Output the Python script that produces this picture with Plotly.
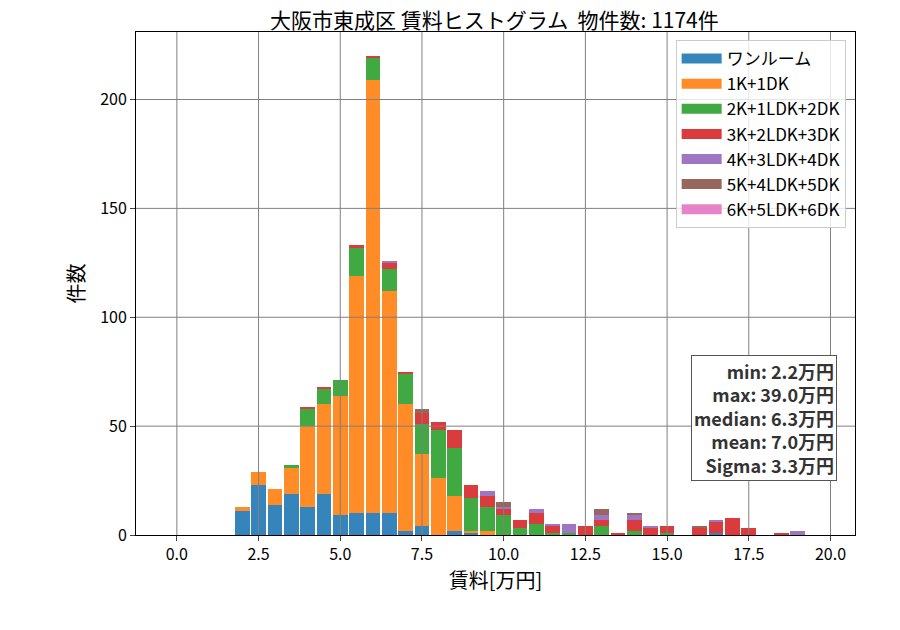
import plotly.graph_objects as go

# bin centres (0.5万円 bins) and counts per layout type
centers = [2.0, 2.5, 3.0, 3.5, 4.0, 4.5, 5.0, 5.5, 6.0, 6.5, 7.0, 7.5, 8.0, 8.5,
           9.0, 9.5, 10.0, 10.5, 11.0, 11.5, 12.0, 12.5, 13.0, 13.5, 14.0, 14.5,
           15.0, 15.5, 16.0, 16.5, 17.0, 17.5, 18.0, 18.5, 19.0]
one_room = [11, 23, 14, 19, 13, 19, 9, 10, 10, 10, 2, 4, 0, 2, 1, 0, 0, 0, 0, 0,
            0, 0, 0, 0, 0, 0, 0, 0, 0, 1, 0, 0, 0, 0, 0]
k1 = [2, 6, 7, 12, 37, 41, 55, 109, 199, 102, 58, 33, 26, 16, 1, 2, 0, 0, 0, 0,
      0, 0, 0, 0, 0, 0, 0, 0, 0, 0, 0, 0, 0, 0, 0]
k2 = [0, 0, 0, 1, 8, 7, 7, 13, 10, 10, 14, 14, 22, 22, 15, 11, 9, 3, 5, 1,
      1, 0, 4, 0, 2, 0, 1, 0, 0, 0, 0, 0, 0, 0, 0]
k3 = [0, 0, 0, 0, 1, 1, 0, 1, 1, 3, 1, 5, 4, 8, 6, 5, 3, 4, 5, 3,
      0, 4, 3, 1, 5, 3, 3, 0, 3, 5, 8, 3, 0, 1, 0]
k4 = [0, 0, 0, 0, 0, 0, 0, 0, 0, 1, 0, 0, 0, 0, 0, 2, 1, 0, 2, 1,
      4, 0, 2, 0, 2, 1, 0, 0, 0, 1, 0, 0, 0, 0, 2]
k5 = [0, 0, 0, 0, 0, 0, 0, 0, 0, 0, 0, 2, 0, 0, 0, 0, 2, 0, 0, 0,
      0, 0, 3, 0, 1, 0, 0, 0, 1, 0, 0, 0, 0, 0, 0]
k6 = [0] * len(centers)

names = ['ワンルーム', '1K+1DK', '2K+1LDK+2DK', '3K+2LDK+3DK',
         '4K+3LDK+4DK', '5K+4LDK+5DK', '6K+5LDK+6DK']
series = [one_room, k1, k2, k3, k4, k5, k6]
colors = ['rgba(31,119,180,0.9)', 'rgba(255,127,14,0.9)', 'rgba(44,160,44,0.9)',
          'rgba(214,39,40,0.9)', 'rgba(148,103,189,0.9)', 'rgba(140,86,75,0.9)',
          'rgba(227,119,194,0.9)']

stats = ['min: 2.2万円', 'max: 39.0万円', 'median: 6.3万円',
         'mean: 7.0万円', 'Sigma: 3.3万円']
total = 1174

x_ticks = [0.0, 2.5, 5.0, 7.5, 10.0, 12.5, 15.0, 17.5, 20.0]
y_ticks = [0, 50, 100, 150, 200]
x_range = [-1.25, 20.75]
y_range = [0, 231]

font = 'Noto Sans CJK JP'

fig = go.Figure()
for name, vals, col in zip(names, series, colors):
    fig.add_trace(go.Bar(x=centers, y=vals, name=name, width=0.45,
                         showlegend=False,
                         marker=dict(color=col, line=dict(width=0))))
# wide rectangular legend swatches like matplotlib's
for name, col in zip(names, colors):
    fig.add_trace(go.Scatter(x=[None], y=[None], mode='lines', name=name,
                             line=dict(color=col, width=12)))

# matplotlib draws the grid over the bars, so use shapes above traces
for xv in x_ticks:
    fig.add_shape(type='line', xref='x', yref='paper', x0=xv, x1=xv, y0=0, y1=1,
                  line=dict(color='#808080', width=1), layer='above')
for yv in y_ticks[1:]:
    fig.add_shape(type='line', xref='paper', yref='y', x0=0, x1=1, y0=yv, y1=yv,
                  line=dict(color='#808080', width=1), layer='above')

fig.add_annotation(xref='paper', yref='paper', x=0.975, y=0.107,
                   xanchor='right', yanchor='bottom', align='right',
                   text='<br>'.join('<b>%s</b>' % s for s in stats),
                   showarrow=False, bgcolor='white', bordercolor='#555',
                   borderwidth=1, borderpad=2,
                   font=dict(family=font, size=18, color='#333'))

fig.update_layout(
    width=900, height=630,
    barmode='stack',
    paper_bgcolor='white', plot_bgcolor='white',
    margin=dict(l=128, r=53, t=24, b=103),
    font=dict(family=font, size=16, color='black'),
    title=dict(text='大阪市東成区 賃料ヒストグラム  物件数: %d件' % total,
               x=0.5405, xanchor='center', y=0.992, yanchor='top',
               font=dict(size=21)),
    legend=dict(x=0.987, y=0.984, xanchor='right', yanchor='top',
                bgcolor='rgba(255,255,255,0.8)', bordercolor='#ccc',
                borderwidth=1, font=dict(size=17), tracegroupgap=0,
                itemwidth=40, traceorder='normal'),
    xaxis=dict(range=x_range, tickvals=x_ticks, tickformat='.1f',
               showgrid=False, zeroline=False, showline=True, mirror=True,
               linecolor='black', linewidth=1, ticks='outside', ticklen=5,
               title=dict(text='賃料[万円]', font=dict(size=20), standoff=4)),
    yaxis=dict(range=y_range, tickvals=y_ticks,
               showgrid=False, zeroline=False, showline=True, mirror=True,
               linecolor='black', linewidth=1, ticks='outside', ticklen=5,
               title=dict(text='件数', font=dict(size=20), standoff=10)),
)

fig.write_html('out.html')
